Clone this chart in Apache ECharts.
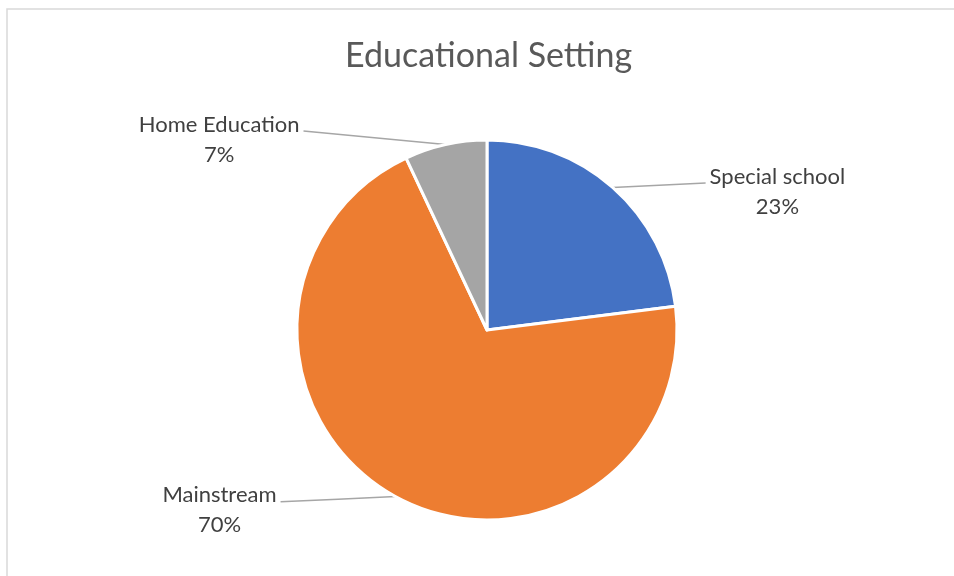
<!DOCTYPE html>
<html>
<head>
<meta charset="utf-8">
<script src="https://cdn.jsdelivr.net/npm/echarts@6/dist/echarts.min.js"></script>
<style>html,body{margin:0;padding:0;background:#fff;}#c{width:954px;height:576px;}</style>
</head>
<body>
<div id="c"></div>
<script>
const categories = ['Special school', 'Mainstream', 'Home Education'];
const values = [23, 70, 7];
const colors = ['#4472C4', '#ED7D31', '#A5A5A5'];
const lineLen = [6, 6, 14];
const lineLen2 = [89, 112, 139];

const chart = echarts.init(document.getElementById('c'));
chart.setOption({
  animation: false,
  backgroundColor: '#fff',
  title: {
    text: 'Educational Setting',
    left: 340,
    top: 34,
    textStyle: { fontFamily: 'Lato', fontSize: 34, fontWeight: 'normal', color: '#595959' }
  },
  graphic: [{
    type: 'rect',
    shape: { x: 7, y: 9, width: 1000, height: 1000 },
    style: { fill: 'none', stroke: '#d9d9d9', lineWidth: 1.5 },
    silent: true
  }],
  series: [{
    type: 'pie',
    center: [487, 330],
    radius: [0, 190],
    startAngle: 90,
    clockwise: true,
    avoidLabelOverlap: false,
    itemStyle: { borderColor: '#fff', borderWidth: 3 },
    label: {
      show: true,
      position: 'outside',
      formatter: p => '{n|' + p.name + '}\n{v|' + p.value + '%}',
      padding: [17, 0, 0, 0],
      distanceToLabelLine: 4,
      color: '#404040',
      rich: {
        n: { fontFamily: 'Lato', fontSize: 22, color: '#404040', align: 'center', lineHeight: 30 },
        v: { fontFamily: 'Lato', fontSize: 22, color: '#404040', align: 'center', lineHeight: 30 }
      }
    },
    labelLine: { show: true, lineStyle: { color: '#a6a6a6', width: 1.5 } },
    labelLayout: function (params) {
      const pts = params.labelLinePoints;
      if (pts && pts.length >= 3) {
        const a = pts[0], c = pts[pts.length - 1];
        return { labelLinePoints: [a, [(a[0] + c[0]) / 2, (a[1] + c[1]) / 2], c] };
      }
      return {};
    },
    data: categories.map((c, i) => ({
      name: c,
      value: values[i],
      itemStyle: { color: colors[i] },
      labelLine: { length: lineLen[i], length2: lineLen2[i] }
    }))
  }]
});
</script>
</body>
</html>
